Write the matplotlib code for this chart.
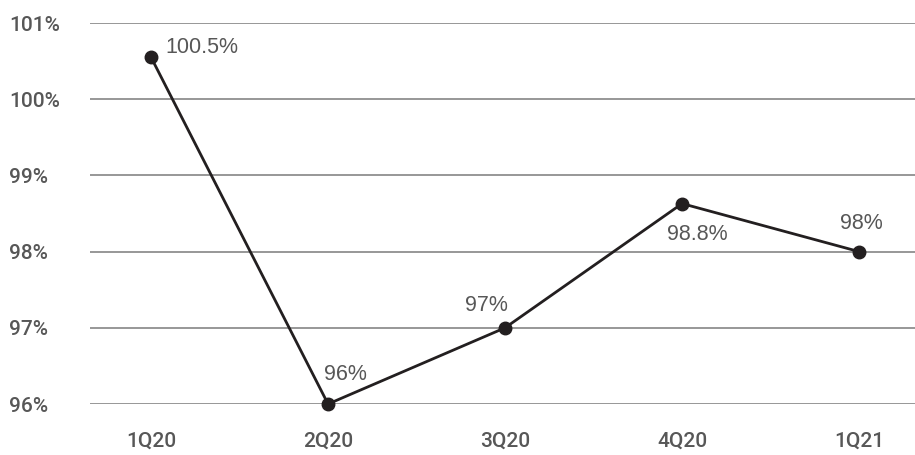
import matplotlib
matplotlib.use('Agg')
import matplotlib.pyplot as plt

quarters = ['1Q20', '2Q20', '3Q20', '4Q20', '1Q21']
# plotted positions
values = [100.55, 96.0, 97.0, 98.63, 98.0]
point_labels = ['100.5%', '96%', '97%', '98.8%', '98%']
y_ticks = [96, 97, 98, 99, 100, 101]

# label offsets from each dot, in pixels
label_offsets = [(14, 10), (17, 30), (-19, 22), (15, -31), (2, 28)]
label_ha = ['left', 'center', 'center', 'center', 'center']

plt.rcParams['font.family'] = ['Liberation Sans', 'DejaVu Sans']
text_color = '#575757'

fig = plt.figure(figsize=(9.15, 4.55), dpi=100)
ax = fig.add_axes([90 / 915, 51 / 455, 825 / 915, 381 / 455])

x = list(range(len(quarters)))
ax.plot(x, values, color='#231f20', linewidth=2.0, marker='o',
        markersize=9, zorder=3, clip_on=False)

for xi, v, lab, off, ha in zip(x, values, point_labels, label_offsets, label_ha):
    ax.annotate(lab, (xi, v), xytext=off, textcoords='offset pixels',
                ha=ha, va='center', fontsize=15.5, color=text_color)

ax.set_xlim(-0.345, 4.316)
ax.set_ylim(96, 101)
ax.set_xticks(x)
ax.set_xticklabels(quarters)
ax.set_yticks(y_ticks)
ax.set_yticklabels([f'{t}%' for t in y_ticks])

ax.grid(axis='y', color='#7a7a7a', linewidth=1.1)
ax.set_axisbelow(True)
for s in ax.spines.values():
    s.set_visible(False)

ax.tick_params(axis='both', length=0, labelcolor=text_color)
ax.tick_params(axis='x', pad=20)
ax.tick_params(axis='y', pad=58)
for t in ax.get_yticklabels():
    t.set_horizontalalignment('left')
for t in ax.get_xticklabels() + ax.get_yticklabels():
    t.set_fontfamily(['Roboto', 'DejaVu Sans'])
    t.set_fontweight('medium')
    t.set_fontsize(15)

fig.savefig('out.png', dpi=100)
